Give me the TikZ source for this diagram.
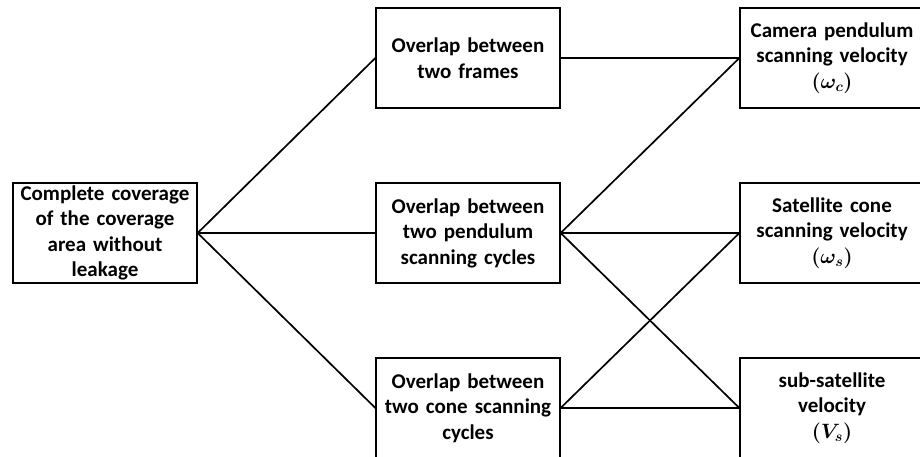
\documentclass[tikz,border=0pt]{standalone}
\usepackage{fontspec}
\setmainfont{Carlito}
\begin{document}
\begin{tikzpicture}[x=1pt,y=-1pt,
  box/.style={draw=black, line width=1.3pt, minimum width=184pt, minimum height=100pt,
    inner sep=0pt, align=center, text width=180pt,
    font=\fontsize{21}{25.5}\selectfont\bfseries\boldmath},
  conn/.style={line width=1.7pt}]
\clip (0,0) rectangle (920,457);
\fill[white] (0,0) rectangle (920,457);
\node[box] (L) at (105,233) {Complete coverage\\of the coverage\\area without\\leakage};
\node[box] (M1) at (468,58) {Overlap between\\two frames};
\node[box] (M2) at (468,233) {Overlap between\\two pendulum\\scanning cycles};
\node[box] (M3) at (468,408) {Overlap between\\two cone scanning\\cycles};
\node[box] (R1) at (832,58) {Camera pendulum\\scanning velocity\\$(\omega_c)$};
\node[box] (R2) at (832,233) {Satellite cone\\scanning velocity\\$(\omega_s)$};
\node[box] (R3) at (832,408) {sub-satellite\\velocity\\$(V_s)$};
\draw[conn] (L.east) -- (M1.west);
\draw[conn] (L.east) -- (M2.west);
\draw[conn] (L.east) -- (M3.west);
\draw[conn] (M1.east) -- (R1.west);
\draw[conn] (M2.east) -- (R1.west);
\draw[conn] (M2.east) -- (R2.west);
\draw[conn] (M2.east) -- (R3.west);
\draw[conn] (M3.east) -- (R2.west);
\draw[conn] (M3.east) -- (R3.west);
\end{tikzpicture}
\end{document}
